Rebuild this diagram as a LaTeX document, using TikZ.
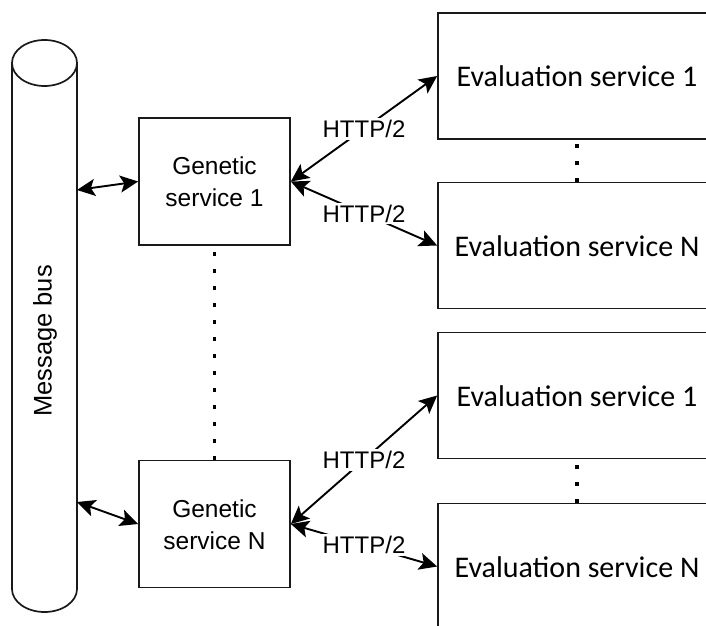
\documentclass[tikz,border=0pt]{standalone}
\usepackage{fontspec}
\setmainfont{Liberation Sans}
\newfontfamily\evalfont{Carlito}
\usetikzlibrary{arrows.meta}

\tikzset{
  base/.style={line width=1.7bp, draw=black!90},
  genbox/.style={base, rectangle, minimum width=151bp, minimum height=127bp,
    align=center, inner sep=0pt, text height=50bp, text depth=0pt,
    font=\fontsize{24.5bp}{32bp}\selectfont},
  evalbox/.style={base, rectangle, minimum width=278bp, minimum height=126bp,
    inner sep=0pt, text height=22bp, text depth=0pt,
    font=\evalfont\fontsize{30bp}{36bp}\selectfont},
  link/.style={line width=1.9bp,
    {Stealth[length=18bp,width=17bp,inset=4bp]}-{Stealth[length=18bp,width=17bp,inset=4bp]}},
  proto/.style={fill=white, inner sep=2bp, font=\fontsize{24bp}{28bp}\selectfont},
  dots/.style={line width=3.5bp, dash pattern=on 3.5bp off 13.5bp}
}

\begin{document}
\begin{tikzpicture}[x=1bp, y=-1bp]
  \clip (0,0) rectangle (706,626);
  \fill[white] (0,0) rectangle (706,626);

  % message bus drawn as a vertical cylinder
  \draw[base] (12,63) -- (12,589)
      arc[start angle=180, end angle=360, x radius=32.5bp, y radius=23bp]
      -- (77,63);
  \draw[base] (44.5,63) ellipse [x radius=32.5bp, y radius=23bp];
  \node[rotate=90, font=\fontsize{25.5bp}{30bp}\selectfont] (bustext) at (45,341) {Message bus};
  \coordinate (bus1) at (77,190);
  \coordinate (bus2) at (77,502);

  % genetic services
  \node[genbox] (g1) at (214.5,181.5) {Genetic\\service 1};
  \node[genbox] (gN) at (214.5,524) {Genetic\\service N};

  % evaluation services
  \node[evalbox] (e1) at (577,76)    {Evaluation service 1};
  \node[evalbox] (eN) at (577,245.5) {Evaluation service N};
  \node[evalbox] (f1) at (577,395.5) {Evaluation service 1};
  \node[evalbox] (fN) at (577,566.5) {Evaluation service N};

  % ellipsis markers between repeated services
  \draw[dots] (gN.north) -- (g1.south);
  \draw[dots] (eN.north) -- (e1.south);
  \draw[dots] (fN.north) -- (f1.south);

  % bus connections
  \draw[link] (bus1) -- (g1.west);
  \draw[link] (bus2) -- (gN.west);

  % HTTP/2 links
  \draw[link] (g1.east) -- node[proto] {HTTP/2} (e1.west);
  \draw[link] (g1.east) -- node[proto] {HTTP/2} (eN.west);
  \draw[link] (gN.east) -- node[proto] {HTTP/2} (f1.west);
  \draw[link] (gN.east) -- node[proto] {HTTP/2} (fN.west);
\end{tikzpicture}
\end{document}
